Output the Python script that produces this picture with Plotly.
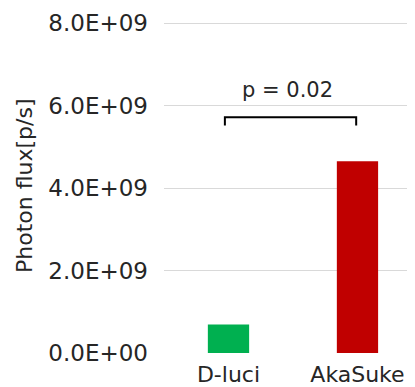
import plotly.graph_objects as go

categories = ["D-luci", "AkaSuke"]
values = [0.69e9, 4.65e9]
bar_colors = ["#00B050", "#C00000"]
tick_vals = [0, 2e9, 4e9, 6e9, 8e9]
tick_text = ["0.0E+00", "2.0E+09", "4.0E+09", "6.0E+09", "8.0E+09"]
p_label = "p = 0.02"
y_title = "Photon flux[p/s]"

FONT = "DejaVu Sans"
TXT = "#262626"

fig = go.Figure()
fig.add_trace(go.Bar(
    x=[0, 1], y=values, marker=dict(color=bar_colors, line=dict(width=0)),
    width=0.32, showlegend=False, hoverinfo="skip",
))

# page body has an 8px default margin, so the figure is sized 8px smaller
fig.update_layout(
    width=407, height=379,
    margin=dict(l=156, r=0, t=11, b=34, autoexpand=False),
    paper_bgcolor="white", plot_bgcolor="white",
    font=dict(family=FONT, size=23, color=TXT),
    xaxis=dict(
        range=[-0.5, 1.446], tickvals=[0, 1], ticktext=categories,
        showgrid=False, zeroline=False, showline=False, ticks="",
        tickfont=dict(size=22, color=TXT), ticklabelstandoff=6,
        automargin=False,
    ),
    yaxis=dict(
        range=[0, 8.1e9], tickvals=tick_vals, ticktext=tick_text,
        showgrid=True, gridcolor="#D9D9D9", gridwidth=1,
        zeroline=False, showline=False, ticks="",
        tickfont=dict(size=23, color=TXT), ticklabelstandoff=15,
        automargin=False,
    ),
    shapes=[dict(
        type="path", xref="x", yref="y",
        path="M -0.028,5.52e9 L -0.028,5.72e9 L 0.99,5.72e9 L 0.99,5.52e9",
        line=dict(color="#000000", width=2),
    )],
    annotations=[
        dict(text=p_label, xref="x", yref="y", x=0.46, y=6.38e9,
             showarrow=False, font=dict(size=21, color=TXT, family=FONT),
             xanchor="center", yanchor="middle"),
        dict(text=y_title, xref="paper", yref="paper",
             x=(24 - 164) / 251, y=0.5, textangle=-90,
             showarrow=False, font=dict(size=22, color=TXT, family=FONT),
             xanchor="center", yanchor="middle"),
    ],
)

fig.write_html("out.html")
